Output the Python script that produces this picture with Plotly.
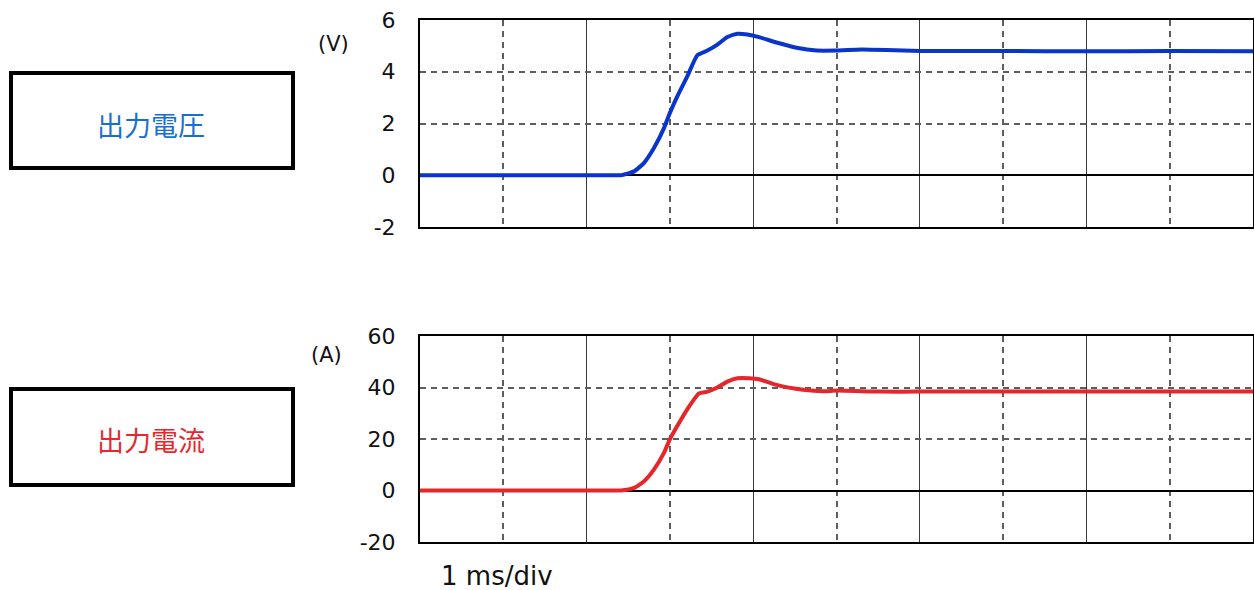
import plotly.graph_objects as go

# time axis in ms (1 ms/div, 10 div)
t_v = [0, 2.3, 2.41, 2.57, 2.69, 2.81, 2.93, 3.0, 3.09, 3.21, 3.33, 3.45, 3.57, 3.69,
       3.81, 3.93, 4.07, 4.28, 4.52, 4.76, 5.0, 5.3, 5.6, 6.0, 7.0, 8.0, 9.0, 10.0]
voltage = [0, 0, 0.0, 0.15, 0.48, 1.06, 1.83, 2.41, 3.06, 3.83, 4.64, 4.82, 5.05, 5.34,
           5.47, 5.44, 5.34, 5.13, 4.93, 4.82, 4.82, 4.86, 4.84, 4.80, 4.80, 4.79, 4.80, 4.79]

t_i = [0, 2.3, 2.41, 2.57, 2.69, 2.81, 2.93, 3.0, 3.09, 3.21, 3.35, 3.45, 3.57, 3.69,
       3.81, 3.95, 4.07, 4.28, 4.6, 4.84, 5.0, 5.5, 6.0, 7.0, 8.0, 9.0, 10.0]
current = [0, 0, 0.0, 1.0, 3.6, 8.2, 14.7, 19.9, 25.1, 31.6, 37.7, 38.4, 40.0, 42.3,
           43.6, 43.6, 43.2, 41.0, 39.1, 38.5, 38.8, 38.4, 38.4, 38.4, 38.4, 38.4, 38.4]

v_ticks = [-2, 0, 2, 4, 6]
i_ticks = [-20, 0, 20, 40, 60]

W, H = 1254, 590
BLUE_LINE = "#0a35cc"
RED_LINE = "#e5262a"
BLUE_TEXT = "#1670d4"
RED_TEXT = "#e8262b"
SANS = "Verdana, DejaVu Sans, sans-serif"
TICK_FONT = dict(family=SANS, size=22, color="#111111")

fig = go.Figure()
fig.add_trace(go.Scatter(x=t_v, y=voltage, mode="lines", xaxis="x", yaxis="y",
                         line=dict(color=BLUE_LINE, width=4, shape="spline", smoothing=0.5),
                         showlegend=False, hoverinfo="skip"))
fig.add_trace(go.Scatter(x=t_i, y=current, mode="lines", xaxis="x2", yaxis="y2",
                         line=dict(color=RED_LINE, width=4, shape="spline", smoothing=0.5),
                         showlegend=False, hoverinfo="skip"))

xdom = [420 / W, 1253 / W]
common_x = dict(range=[0, 10], dtick=2, tick0=0, showticklabels=False, ticks="",
                showgrid=True, gridcolor="#3a3a3a", gridwidth=1,
                minor=dict(dtick=1, tick0=0, showgrid=True, gridcolor="#5e5e5e",
                           gridwidth=1.5, griddash="6px,5px"),
                showline=True, linecolor="black", linewidth=2, mirror=True,
                zeroline=False, fixedrange=True, automargin=False)
common_y = dict(showgrid=True, gridcolor="#5e5e5e", gridwidth=1.5, griddash="6px,5px",
                showline=True, linecolor="black", linewidth=2, mirror=True,
                zeroline=True, zerolinecolor="black", zerolinewidth=1.5,
                ticks="", tickfont=TICK_FONT, ticklabelstandoff=18, fixedrange=True,
                automargin=False)

fig.update_layout(
    width=W, height=H,
    margin=dict(l=0, r=0, t=0, b=0, pad=0, autoexpand=False),
    paper_bgcolor="white", plot_bgcolor="white",
    xaxis=dict(domain=xdom, anchor="y", **common_x),
    yaxis=dict(domain=[1 - 227 / H, 1 - 20 / H], anchor="x", range=[-2, 6],
               tickvals=v_ticks, ticktext=[str(v) for v in v_ticks], **common_y),
    xaxis2=dict(domain=xdom, anchor="y2", **common_x),
    yaxis2=dict(domain=[1 - 542 / H, 1 - 336 / H], anchor="x2", range=[-20, 60],
                tickvals=i_ticks, ticktext=[str(v) for v in i_ticks], **common_y),
)

# label boxes
for y0, y1 in [(73, 168), (389, 485)]:
    fig.add_shape(type="rect", xref="paper", yref="paper",
                  x0=11 / W, x1=293 / W, y0=1 - y1 / H, y1=1 - y0 / H,
                  line=dict(color="black", width=4), fillcolor="white", layer="above")

CJK = "Noto Sans CJK JP, sans-serif"
fig.add_annotation(text="出力電圧", xref="paper", yref="paper", x=151 / W, y=1 - 124 / H,
                   xanchor="center", yanchor="middle",
                   showarrow=False, font=dict(family=CJK, size=27, color=BLUE_TEXT))
fig.add_annotation(text="出力電流", xref="paper", yref="paper", x=151 / W, y=1 - 439 / H,
                   xanchor="center", yanchor="middle",
                   showarrow=False, font=dict(family=CJK, size=27, color=RED_TEXT))

fig.add_annotation(text="(V)", xref="paper", yref="paper", x=333 / W, y=1 - 44 / H,
                   xanchor="center", yanchor="middle",
                   showarrow=False, font=dict(family=SANS, size=21, color="#111111"))
fig.add_annotation(text="(A)", xref="paper", yref="paper", x=327 / W, y=1 - 355 / H,
                   xanchor="center", yanchor="middle",
                   showarrow=False, font=dict(family=SANS, size=21, color="#111111"))
fig.add_annotation(text="1 ms/div", xref="paper", yref="paper", x=439 / W, y=1 - 576 / H,
                   xanchor="left", yanchor="middle", showarrow=False,
                   font=dict(family=SANS, size=26, color="#111111"))

fig.write_html("out.html")
